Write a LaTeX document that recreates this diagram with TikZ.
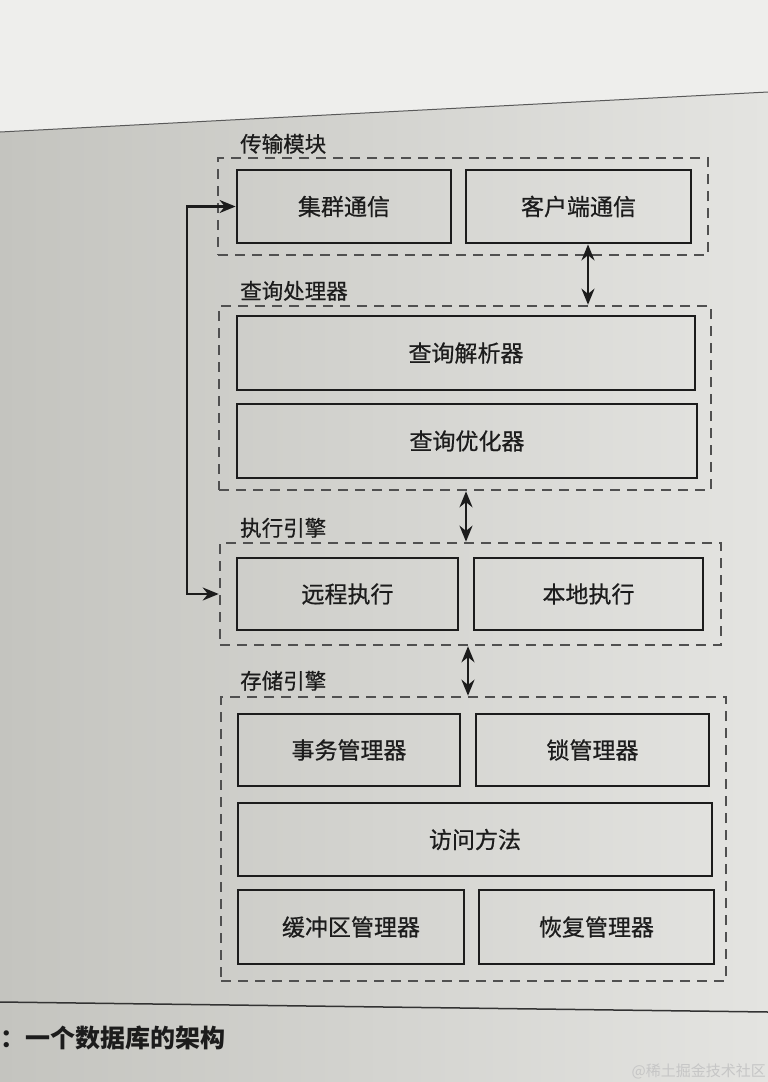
\documentclass[tikz,border=0pt]{standalone}
\usepackage{fontspec}
\newfontfamily\cjk{Noto Sans CJK SC}
\newfontfamily\cjkm[FakeBold=0.6]{Noto Sans CJK SC}
\usetikzlibrary{arrows.meta}
\definecolor{paperdark}{RGB}{196,196,191}
\definecolor{paperlight}{RGB}{228,228,225}
\definecolor{papertop}{RGB}{238,238,236}
\definecolor{ink}{RGB}{28,28,28}
\definecolor{dashink}{RGB}{80,80,80}
\tikzset{
  blk/.style={draw=ink, line width=2.8pt, rectangle, inner sep=0pt,
    font=\cjkm\fontsize{23}{27}\selectfont, text=ink},
  grp/.style={draw=dashink, line width=2.6pt, rectangle, inner sep=0pt,
    dash pattern=on 10pt off 7pt},
  grplabel/.style={anchor=base west, inner sep=0pt,
    font=\cjkm\fontsize{21.5}{25}\selectfont, text=ink},
  dbl/.style={{Stealth[length=16pt,width=13pt]}-{Stealth[length=16pt,width=13pt]}, line width=2.4pt, draw=ink},
  conn/.style={{Stealth[length=16pt,width=13pt]}-{Stealth[length=16pt,width=13pt]}, line width=2.2pt, draw=ink}
}
\begin{document}
\begin{tikzpicture}[x=1pt,y=-1pt]
\useasboundingbox (0,0) rectangle (768,1082);
% paper
\shade[left color=paperdark, right color=paperlight, shading angle=90] (0,0) rectangle (768,1082);
\fill[papertop] (0,0) -- (768,0) -- (768,92) -- (0,132) -- cycle;
\draw[line width=1pt, draw=gray!70!black] (0,132) -- (768,92);
\draw[line width=1.5pt, draw=gray!40!black] (0,1002) -- (768,1012);

% groups
\node[grp, minimum width=490pt, minimum height=97pt] (g1) at (463,206.5) {};
\node[grp, minimum width=492pt, minimum height=184pt] (g2) at (465,398) {};
\node[grp, minimum width=501pt, minimum height=102pt] (g3) at (470.5,594) {};
\node[grp, minimum width=505pt, minimum height=284pt] (g4) at (473.5,839) {};

\node[grplabel] (l1) at (240,152) {传输模块};
\node[grplabel] (l2) at (240,299) {查询处理器};
\node[grplabel] (l3) at (240,536) {执行引擎};
\node[grplabel] (l4) at (240,689) {存储引擎};

% blocks
\node[blk, minimum width=214pt, minimum height=73pt] (jq) at (344,206.5) {集群通信};
\node[blk, minimum width=225pt, minimum height=73pt] (kh) at (578.5,206.5) {客户端通信};
\node[blk, minimum width=458pt, minimum height=74pt] (jx) at (466,353) {查询解析器};
\node[blk, minimum width=460pt, minimum height=74pt] (yh) at (467,441) {查询优化器};
\node[blk, minimum width=221pt, minimum height=72pt] (yc) at (347.5,594) {远程执行};
\node[blk, minimum width=229pt, minimum height=72pt] (bd) at (588.5,594) {本地执行};
\node[blk, minimum width=222pt, minimum height=72pt] (sw) at (349,750) {事务管理器};
\node[blk, minimum width=233pt, minimum height=72pt] (sg) at (592.5,750) {锁管理器};
\node[blk, minimum width=474pt, minimum height=73pt] (fw) at (475,839.5) {访问方法};
\node[blk, minimum width=226pt, minimum height=74pt] (hc) at (351,927) {缓冲区管理器};
\node[blk, minimum width=235pt, minimum height=74pt] (hf) at (596.5,927) {恢复管理器};

% connectors
\coordinate (x1) at (588,0);
\coordinate (x2) at (466,0);
\coordinate (x3) at (468,0);
\coordinate (cl) at (187,400);
\draw[dbl] (kh.south -| x1) -- (g2.north -| x1);
\draw[dbl] (g2.south -| x2) -- (g3.north -| x2);
\draw[dbl] (g3.south -| x3) -- (g4.north -| x3);
\draw[conn] (jq.west) -| (cl) |- (g3.west);

% caption and watermark
\node[anchor=base west, inner sep=0pt, font=\cjk\bfseries\fontsize{25}{29}\selectfont, text=ink] (cap) at (0,1047) {：一个数据库的架构};
\node[anchor=base east, inner sep=0pt, font=\cjk\fontsize{15}{18}\selectfont, text=gray!45] (wm) at (766,1076) {@稀土掘金技术社区};
\end{tikzpicture}
\end{document}
